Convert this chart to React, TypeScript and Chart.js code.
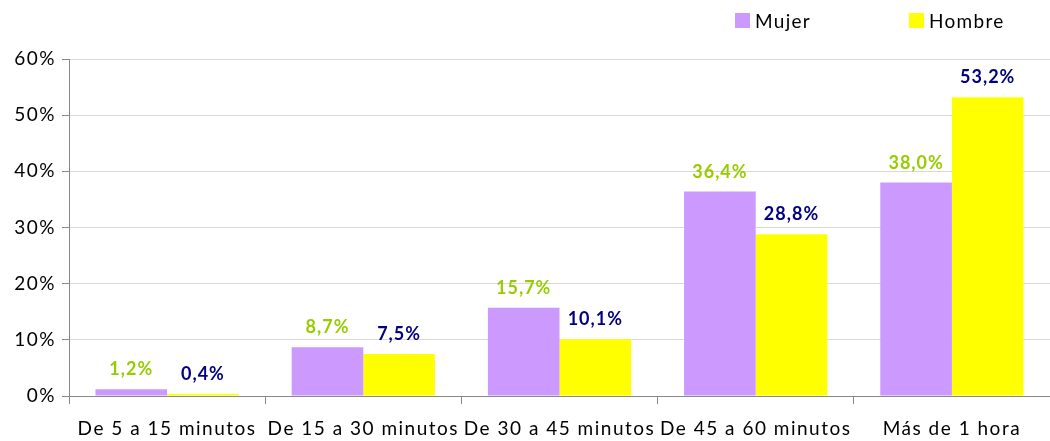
import React, { useEffect, useRef } from "react";
import { Chart, registerables } from "chart.js";

Chart.register(...registerables);

const categories = [
  "De 5 a 15 minutos",
  "De 15 a 30 minutos",
  "De 30 a 45 minutos",
  "De 45 a 60 minutos",
  "Más de 1 hora",
];
const mujer = [1.2, 8.7, 15.7, 36.4, 38.0];
const hombre = [0.4, 7.5, 10.1, 28.8, 53.2];
const seriesNames = ["Mujer", "Hombre"];
const yTicks = [0, 10, 20, 30, 40, 50, 60];

const PURPLE = "#CC99FF";
const YELLOW = "#FFFF00";
const LABEL_COLORS = ["#99CC00", "#000080"];
const FONT = "Lato, 'Open Sans', sans-serif";

const fmt = (v: number) => v.toFixed(1).replace(".", ",") + "%";

// Slightly spaced-out lettering for all axis text
const letterSpacing = {
  id: "letterSpacing",
  beforeDraw(chart: any) {
    chart.ctx.letterSpacing = "1.5px";
  },
};

// Value labels above each bar, coloured per series
const valueLabels = {
  id: "valueLabels",
  afterDatasetsDraw(chart: any) {
    const ctx = chart.ctx;
    ctx.save();
    ctx.letterSpacing = "1px";
    ctx.font = `bold 18px ${FONT}`;
    ctx.textAlign = "center";
    ctx.textBaseline = "alphabetic";
    chart.data.datasets.forEach((ds: any, di: number) => {
      const meta = chart.getDatasetMeta(di);
      ctx.fillStyle = LABEL_COLORS[di];
      meta.data.forEach((bar: any, i: number) => {
        ctx.fillText(fmt(ds.data[i]), bar.x, bar.y - 14);
      });
    });
    ctx.restore();
  },
};

// Legend in the top-right corner
const cornerLegend = {
  id: "cornerLegend",
  afterDraw(chart: any) {
    const ctx = chart.ctx;
    ctx.save();
    ctx.letterSpacing = "1.3px";
    ctx.font = `19px ${FONT}`;
    ctx.textBaseline = "middle";
    ctx.textAlign = "left";
    const startX = 735;
    const stride = 174;
    const boxTop = 13;
    const box = 15;
    chart.data.datasets.forEach((ds: any, i: number) => {
      const x = startX + i * stride;
      ctx.fillStyle = ds.backgroundColor;
      ctx.fillRect(x, boxTop, box, box);
      ctx.fillStyle = "#000000";
      ctx.fillText(ds.label, x + box + 5, boxTop + box / 2 + 1);
    });
    ctx.restore();
  },
};

export default function App() {
  const ref = useRef<HTMLCanvasElement | null>(null);

  useEffect(() => {
    if (!ref.current) return;
    const chart = new Chart(ref.current, {
      type: "bar",
      data: {
        labels: categories,
        datasets: [
          { label: seriesNames[0], data: mujer, backgroundColor: PURPLE },
          { label: seriesNames[1], data: hombre, backgroundColor: YELLOW },
        ],
      },
      options: {
        animation: false,
        responsive: false,
        devicePixelRatio: 1,
        layout: { padding: { top: 59, right: 0, left: 0, bottom: 0 } },
        datasets: {
          bar: { categoryPercentage: 0.73, barPercentage: 1 },
        },
        plugins: {
          legend: { display: false },
          tooltip: { enabled: false },
        },
        scales: {
          x: {
            afterFit(scale: any) {
              scale.height = 45;
            },
            grid: {
              offset: true,
              drawOnChartArea: false,
              drawTicks: true,
              tickLength: 8,
              color: "#888888",
            },
            border: { display: true, color: "#888888" },
            ticks: {
              color: "#000000",
              font: { family: FONT, size: 19 },
              padding: 13,
              maxRotation: 0,
              autoSkip: false,
            },
          },
          y: {
            min: 0,
            max: 60,
            afterFit(scale: any) {
              scale.width = 69;
            },
            afterBuildTicks(scale: any) {
              scale.ticks = yTicks.map((v) => ({ value: v }));
            },
            grid: {
              color: "#D9D9D9",
              tickColor: "#888888",
              tickLength: 7,
            },
            border: { display: true, color: "#888888" },
            ticks: {
              color: "#000000",
              font: { family: FONT, size: 19 },
              padding: 6,
              callback: (v: any) => `${v}%`,
            },
          },
        },
      },
      plugins: [letterSpacing, valueLabels, cornerLegend],
    });
    return () => chart.destroy();
  }, []);

  return (
    <div style={{ position: "fixed", left: 0, top: 0, width: 1050, height: 441, background: "#fff" }}>
      <canvas ref={ref} width={1050} height={441} style={{ display: "block" }} />
    </div>
  );
}
